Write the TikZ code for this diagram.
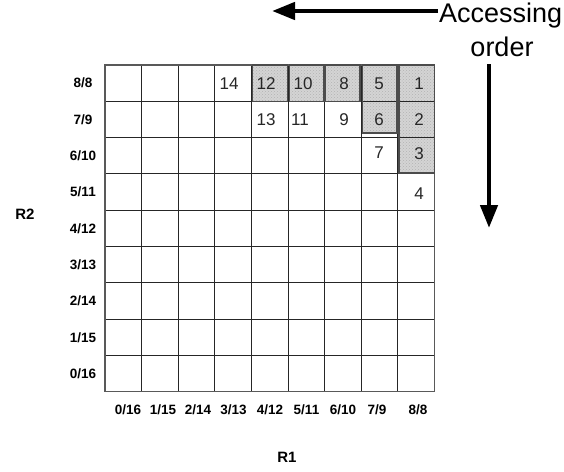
\documentclass[tikz,border=0pt]{standalone}
\usepackage{fontspec}
\setmainfont{Liberation Sans}
\usetikzlibrary{arrows.meta,patterns}
\definecolor{shadegray}{RGB}{212,212,212}
\tikzset{
  num/.style={font=\fontsize{17}{19}\selectfont, text=black!85, inner sep=0pt},
  axlab/.style={font=\bfseries\fontsize{13.5}{15}\selectfont, inner sep=0pt},
  axname/.style={font=\bfseries\fontsize{15}{17}\selectfont, inner sep=0pt},
  bigtxt/.style={font=\fontsize{27}{30}\selectfont, inner sep=0pt},
  shfill/.style={fill=shadegray, postaction={pattern=crosshatch dots, pattern color=black!30}},
  shborder/.style={draw=black!70, line width=1.3pt},
  bigarrow/.style={line width=4.5pt, -{Triangle[length=23pt,width=17pt]}},
  gridline/.style={black!85, line width=0.9pt},
}
\begin{document}
\begin{tikzpicture}[x=1pt,y=-1pt]
\useasboundingbox (0,0) rectangle (564,471);
% shaded fills
\path[shfill] (252.3,65) rectangle (287.5,101.3);
\path[shfill] (289.5,65) rectangle (324,101.3);
\path[shfill] (325.5,65) rectangle (360,101.3);
\path[shfill] (362.5,65) rectangle (397,133);
\path[shfill] (399,65) rectangle (434.4,173);
% grid
\foreach \i in {1,...,8} {
  \draw[gridline] (105+36.6*\i,65) -- (105+36.6*\i,391.7);
  \draw[gridline] (105,65+36.3*\i) -- (434.4,65+36.3*\i);
}
\draw[black!65, line width=1.4pt] (105,65) rectangle (434.4,391.7);
% shaded borders
\draw[shborder] (252.3,65) rectangle (287.5,101.3);
\draw[shborder] (289.5,65) rectangle (324,101.3);
\draw[shborder] (325.5,65) rectangle (360,101.3);
\draw[shborder] (362.5,65) rectangle (397,133);
\draw[shborder] (399,65) rectangle (434.4,173);
% numbers
\node[num] (n14) at (229,84) {14};
\node[num] (n12) at (266,84) {12};
\node[num] (n10) at (303,84) {10};
\node[num] (n8) at (344,84) {8};
\node[num] (n5) at (379,84) {5};
\node[num] (n1) at (419,84) {1};
\node[num] (n13) at (266,120) {13};
\node[num] (n11) at (300,120) {11};
\node[num] (n9) at (344,120) {9};
\node[num] (n6) at (379,120) {6};
\node[num] (n2) at (419,120) {2};
\node[num] (n7) at (379,153) {7};
\node[num] (n3) at (419,154) {3};
\node[num] (n4) at (419,194) {4};
% row labels
\foreach \t [count=\k from 0] in {8/8,7/9,6/10,5/11,4/12,3/13,2/14,1/15,0/16} {
  \node[axlab] (r\k) at (83,65+36.3*\k+18.15) {\t};
}
% column labels
\node[axlab] (c0) at (128,410) {0/16};
\node[axlab] (c1) at (163,410) {1/15};
\node[axlab] (c2) at (198,410) {2/14};
\node[axlab] (c3) at (233.5,410) {3/13};
\node[axlab] (c4) at (270,410) {4/12};
\node[axlab] (c5) at (306.5,410) {5/11};
\node[axlab] (c6) at (343,410) {6/10};
\node[axlab] (c7) at (377,410) {7/9};
\node[axlab] (c8) at (418,410) {8/8};
% axis names
\node[axname] (R1) at (287,457) {R1};
\node[axname] (R2) at (25,214) {R2};
% accessing order
\node[bigtxt, anchor=west] (acc) at (439,16) {Accessing};
\node[bigtxt] (ord) at (502,47) {order};
\coordinate (hs) at (438,11);
\coordinate (he) at (272,11);
\coordinate (vs) at (489,64);
\coordinate (ve) at (489,228);
\draw[bigarrow] (hs) -- (he);
\draw[bigarrow] (vs) -- (ve);
\end{tikzpicture}
\end{document}
